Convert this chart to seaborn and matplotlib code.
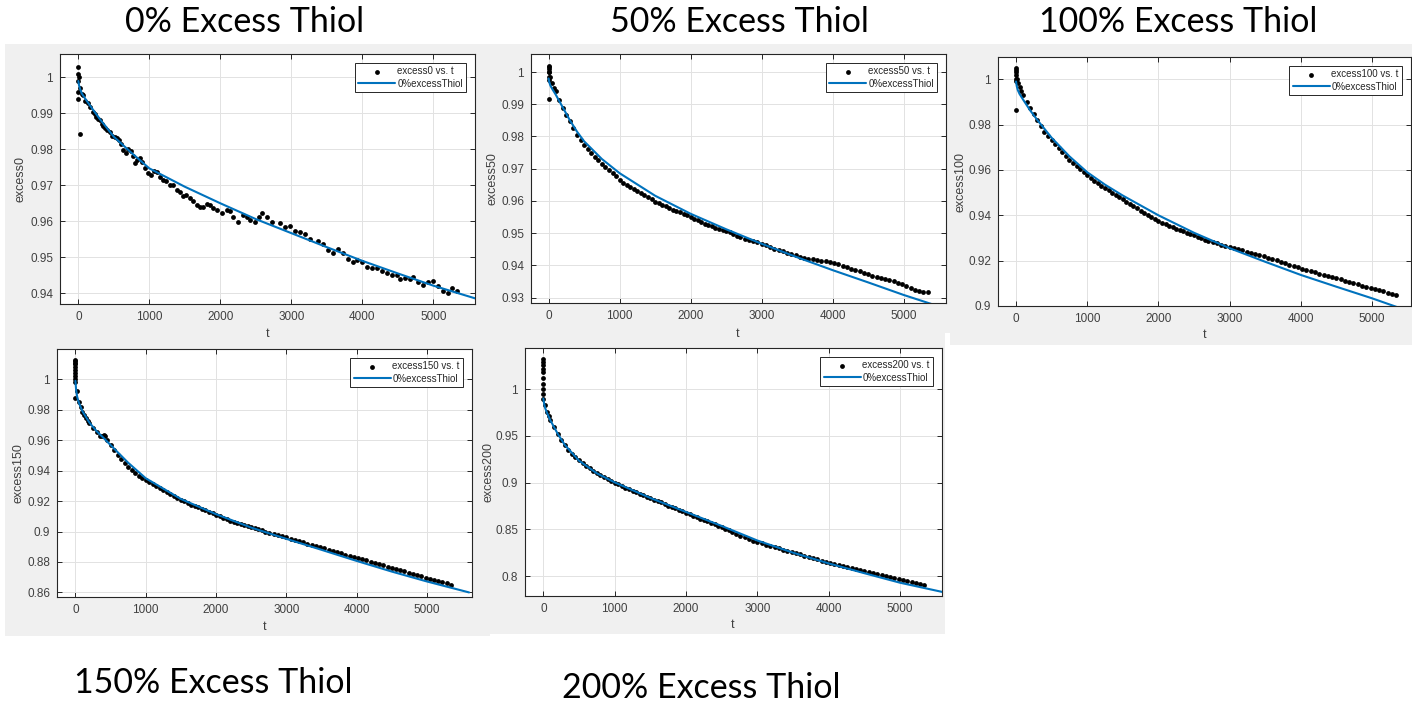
import matplotlib
matplotlib.use("Agg")
import matplotlib.pyplot as plt
from matplotlib.patches import Rectangle
import seaborn as sns

# ---------------- data ----------------
titles = ["0% Excess Thiol", "50% Excess Thiol", "100% Excess Thiol",
          "150% Excess Thiol", "200% Excess Thiol"]
ylabels = ["excess0", "excess50", "excess100", "excess150", "excess200"]
data_labels = ["excess0 vs. t", "excess50 vs. t", "excess100 vs. t",
               "excess150 vs. t", "excess200 vs. t"]
fit_label = "0%excessThiol"

# 0 % excess
t0 = [0, 0, 0, 0, 0, 5, 23, 30, 50, 70, 100, 130, 164, 200, 230, 250, 280, 305, 330, 350,
      380, 400, 446, 480, 516, 550, 580, 600, 634, 670, 704, 740, 770, 798, 830, 869, 900,
      940, 986, 1030, 1070, 1103, 1150, 1197, 1240, 1291, 1330, 1385, 1430, 1479, 1520, 1573,
      1620, 1667, 1710, 1761, 1810, 1854, 1900, 1948, 2019, 2089, 2140, 2183, 2254, 2324, 2370,
      2418, 2488, 2540, 2582, 2653, 2723, 2840, 2911, 2981, 3052, 3122, 3192, 3263, 3380, 3451,
      3521, 3592, 3662, 3732, 3803, 3873, 3920, 3991, 4061, 4131, 4202, 4272, 4343, 4413, 4484,
      4531, 4601, 4671, 4718, 4789, 4859, 4930, 5000, 5070, 5141, 5211, 5258, 5329]
y0 = [1.003, 1.001, 0.999, 0.996, 0.994, 1.000, 0.9842, 0.997, 0.9955, 0.9951, 0.9935, 0.9928,
      0.9919, 0.9905, 0.9898, 0.9890, 0.9884, 0.9881, 0.9870, 0.9866, 0.9858, 0.9855, 0.9849,
      0.9838, 0.9835, 0.9832, 0.9826, 0.9815, 0.9798, 0.9790, 0.9800, 0.9795, 0.9782, 0.9761,
      0.9770, 0.9775, 0.9765, 0.9748, 0.9733, 0.9730, 0.9740, 0.9738, 0.9722, 0.9715, 0.9712,
      0.9701, 0.9700, 0.9687, 0.9680, 0.9669, 0.9672, 0.9664, 0.9655, 0.9645, 0.9640, 0.9641,
      0.9648, 0.9645, 0.9638, 0.9631, 0.9622, 0.9631, 0.9628, 0.9613, 0.9599, 0.9618, 0.9612,
      0.9604, 0.9599, 0.9612, 0.9622, 0.9613, 0.9599, 0.9596, 0.9583, 0.9587, 0.9573, 0.9569,
      0.9565, 0.9550, 0.9546, 0.9537, 0.9519, 0.9511, 0.9522, 0.9513, 0.9494, 0.9488, 0.9493,
      0.9488, 0.9472, 0.9469, 0.9469, 0.9463, 0.9456, 0.9451, 0.9451, 0.9439, 0.9441, 0.9439,
      0.9444, 0.9430, 0.9423, 0.9430, 0.9435, 0.9419, 0.9407, 0.9400, 0.9414, 0.9407]
fit_t0 = [0, 10, 25, 50, 100, 200, 300, 500, 750, 1000, 1500, 2000, 2500, 3000, 3500, 4000,
          4500, 5000, 5600]
fit_y0 = [0.9990, 0.9978, 0.9968, 0.9955, 0.9940, 0.9912, 0.9885, 0.9835, 0.9790, 0.9747,
          0.9696, 0.9650, 0.9606, 0.9567, 0.9528, 0.9490, 0.9455, 0.9421, 0.9385]

# 50 % excess
t50 = [0, 0, 0, 0, 0, 10, 10, 0, 25, 50, 75, 100, 150, 200, 250, 300, 350, 400, 450, 500, 550,
       600, 650, 700, 750, 800, 850, 900, 950, 1000, 1050, 1100, 1150, 1200, 1250, 1300, 1350,
       1400, 1450, 1500, 1550, 1600, 1650, 1700, 1750, 1800, 1850, 1900, 1950, 2000, 2050, 2100,
       2150, 2200, 2250, 2300, 2350, 2400, 2450, 2500, 2550, 2600, 2650,
       2700, 2760, 2820, 2880, 2940, 3000, 3060, 3120, 3180, 3240, 3300, 3360, 3420, 3480, 3540,
       3600, 3660, 3720, 3780, 3840, 3900, 3960, 4020, 4080, 4140, 4200, 4260, 4320, 4380, 4440,
       4500, 4560, 4620, 4680, 4740, 4800, 4860, 4920, 4980, 5040, 5100, 5160, 5220, 5280, 5340]
y50 = [1.002, 1.001, 1.000, 0.9985, 0.9975, 1.0015, 1.000, 0.9916, 0.9985, 0.9966, 0.9952,
       0.9940, 0.9912, 0.9888, 0.9867, 0.9847, 0.9826, 0.9805, 0.9789, 0.9774, 0.9761, 0.9748,
       0.9737, 0.9726, 0.9715, 0.9705, 0.9695, 0.9686, 0.9676, 0.9666, 0.9657, 0.9648, 0.9642,
       0.9637, 0.9632, 0.9626, 0.9619, 0.9612, 0.9605, 0.9598, 0.9593, 0.9588, 0.9583, 0.9578,
       0.9573, 0.9569, 0.9564, 0.9560, 0.9555, 0.9550, 0.9545, 0.9540, 0.9535, 0.9529, 0.9525,
       0.9521, 0.9517, 0.9513, 0.9510, 0.9508, 0.9503, 0.9498, 0.9492,
       0.9487, 0.9483, 0.9479, 0.9475, 0.9471, 0.9467, 0.9462, 0.9457, 0.9452, 0.9447, 0.9443,
       0.9439, 0.9435, 0.9431, 0.9427, 0.9424, 0.9421, 0.9419, 0.9417, 0.9414, 0.9412, 0.9410,
       0.9407, 0.9403, 0.9399, 0.9394, 0.9390, 0.9386, 0.9382, 0.9377, 0.9372, 0.9368, 0.9365,
       0.9362, 0.9359, 0.9355, 0.9350, 0.9346, 0.9341, 0.9336, 0.9330, 0.9324, 0.9320, 0.9318,
       0.9316]
fit_t50 = [0, 10, 25, 50, 100, 200, 300, 400, 500, 750, 1000, 1500, 2000, 2500, 3000, 3500,
           4000, 4500, 5000, 5600]
fit_y50 = [0.9980, 0.9968, 0.9958, 0.9948, 0.9930, 0.9890, 0.9850, 0.9815, 0.9785, 0.9730,
           0.9686, 0.9616, 0.9560, 0.9512, 0.9467, 0.9425, 0.9385, 0.9347, 0.9308, 0.9265]

# 100 % excess
t100 = [0, 0, 0, 0, 0, 0, 0, 10, 25, 50, 75, 100, 150, 200, 250, 300, 350, 400, 450, 500, 550,
        600, 650, 700, 750, 800, 850, 900, 950, 1000, 1050, 1100, 1150, 1200, 1250, 1300, 1350,
        1400, 1450, 1500, 1550, 1600, 1650, 1700, 1750, 1800, 1850, 1900, 1950, 2000, 2050, 2100,
        2150, 2200, 2250, 2300, 2350, 2400, 2450, 2500, 2550, 2600, 2650,
        2700, 2760, 2820, 2880, 2940, 3000, 3060, 3120, 3180, 3240, 3300, 3360, 3420, 3480, 3540,
        3600, 3660, 3720, 3780, 3840, 3900, 3960, 4020, 4080, 4140, 4200, 4260, 4320, 4380, 4440,
        4500, 4560, 4620, 4680, 4740, 4800, 4860, 4920, 4980, 5040, 5100, 5160, 5220, 5280, 5340]
y100 = [1.005, 1.004, 1.003, 1.002, 1.000, 0.999, 0.9866, 1.000, 0.9985, 0.9966, 0.9948,
        0.9930, 0.9900, 0.9871, 0.9845, 0.9819, 0.9793, 0.9768, 0.9749, 0.9731, 0.9713, 0.9695,
        0.9678, 0.9661, 0.9646, 0.9631, 0.9616, 0.9602, 0.9589, 0.9577, 0.9564, 0.9552, 0.9541,
        0.9530, 0.9520, 0.9511, 0.9500, 0.9489, 0.9479, 0.9470, 0.9459, 0.9449, 0.9439, 0.9430,
        0.9420, 0.9411, 0.9402, 0.9393, 0.9384, 0.9376, 0.9368, 0.9361, 0.9354, 0.9347, 0.9341,
        0.9335, 0.9329, 0.9323, 0.9317, 0.9311, 0.9304, 0.9298, 0.9292,
        0.9286, 0.9281, 0.9276, 0.9271, 0.9266, 0.9261, 0.9256, 0.9251, 0.9246, 0.9240, 0.9235,
        0.9230, 0.9224, 0.9219, 0.9213, 0.9207, 0.9201, 0.9195, 0.9189, 0.9183, 0.9177, 0.9171,
        0.9164, 0.9159, 0.9154, 0.9148, 0.9143, 0.9138, 0.9133, 0.9128, 0.9122, 0.9117, 0.9112,
        0.9106, 0.9101, 0.9096, 0.9090, 0.9085, 0.9080, 0.9075, 0.9070, 0.9064, 0.9059, 0.9054,
        0.9048]
fit_t100 = [0, 10, 25, 50, 100, 200, 300, 500, 750, 1000, 1250, 1500, 2000, 2500, 3000, 3500,
            4000, 4500, 5000, 5600]
fit_y100 = [0.9990, 0.9970, 0.9952, 0.9935, 0.9910, 0.9862, 0.9820, 0.9742, 0.9660, 0.9590,
            0.9535, 0.9487, 0.9400, 0.9323, 0.9255, 0.9195, 0.9137, 0.9085, 0.9034, 0.8968]

# 150 % excess
t150 = [0, 0, 0, 0, 0, 0, 0, 0, 0, 0, 0, 25, 50, 75, 100, 125, 150, 175, 200, 250, 300, 350,
        375, 400, 425, 450, 500, 550, 600, 650, 700, 750, 800, 850, 900, 950, 1000, 1050, 1100,
        1150, 1200, 1250, 1300, 1350, 1400, 1450, 1500, 1550, 1600, 1650, 1700, 1750, 1800, 1850,
        1900, 1950, 2000, 2050, 2100, 2150, 2200, 2250, 2300, 2350, 2400, 2450, 2500, 2550, 2600,
        2650,
        2700, 2760, 2820, 2880, 2940, 3000, 3060, 3120, 3180, 3240, 3300, 3360, 3420, 3480, 3540,
        3600, 3660, 3720, 3780, 3840, 3900, 3960, 4020, 4080, 4140, 4200, 4260, 4320, 4380, 4440,
        4500, 4560, 4620, 4680, 4740, 4800, 4860, 4920, 4980, 5040, 5100, 5160, 5220, 5280, 5340]
y150 = [1.013, 1.012, 1.011, 1.010, 1.008, 1.006, 1.004, 1.002, 1.000, 0.998, 0.9875,
        0.9920, 0.9853, 0.9815, 0.9788, 0.9765, 0.9744, 0.9727, 0.9711, 0.9683, 0.9656, 0.9630,
        0.9628, 0.9635, 0.9625, 0.9600, 0.9569, 0.9535, 0.9503, 0.9475, 0.9449, 0.9426, 0.9405,
        0.9386, 0.9368, 0.9353, 0.9339, 0.9325, 0.9311, 0.9298, 0.9285, 0.9272, 0.9259, 0.9246,
        0.9234, 0.9222, 0.9210, 0.9198, 0.9186, 0.9177, 0.9168, 0.9158, 0.9149, 0.9139, 0.9129,
        0.9120, 0.9110, 0.9100, 0.9091, 0.9081, 0.9072, 0.9065, 0.9058, 0.9051, 0.9044, 0.9037,
        0.9030, 0.9022, 0.9015, 0.9007,
        0.9000, 0.8992, 0.8984, 0.8976, 0.8968, 0.8961, 0.8953, 0.8945, 0.8937, 0.8929, 0.8921,
        0.8913, 0.8905, 0.8897, 0.8889, 0.8881, 0.8873, 0.8865, 0.8857, 0.8849, 0.8841, 0.8833,
        0.8826, 0.8818, 0.8810, 0.8802, 0.8794, 0.8786, 0.8778, 0.8770, 0.8762, 0.8754, 0.8746,
        0.8738, 0.8730, 0.8722, 0.8714, 0.8706, 0.8698, 0.8690, 0.8682, 0.8674, 0.8666, 0.8659,
        0.8652]
fit_t150 = [0, 10, 25, 50, 100, 200, 300, 400, 500, 750, 1000, 1500, 2000, 2500, 3000, 3500,
            4000, 4500, 5000, 5600]
fit_y150 = [0.9990, 0.9930, 0.9885, 0.9845, 0.9790, 0.9715, 0.9660, 0.9615, 0.9568, 0.9452,
            0.9350, 0.9214, 0.9114, 0.9026, 0.8952, 0.8880, 0.8807, 0.8737, 0.8672, 0.8600]

# 200 % excess
t200 = [0, 0, 0, 0, 0, 0, 0, 0, 0, 0, 25, 50, 75, 100, 150, 200, 250, 300, 350, 400, 450, 500,
        550, 600, 650, 700, 750, 800, 850, 900, 950, 1000, 1050, 1100, 1150, 1200, 1250, 1300,
        1350, 1400, 1450, 1500, 1550, 1600, 1650, 1700, 1750, 1800, 1850, 1900, 1950, 2000, 2050,
        2100, 2150, 2200, 2250, 2300, 2350, 2400, 2450, 2500, 2550, 2600, 2650,
        2700, 2760, 2820, 2880, 2940, 3000, 3060, 3120, 3180, 3240, 3300, 3360, 3420, 3480, 3540,
        3600, 3660, 3720, 3780, 3840, 3900, 3960, 4020, 4080, 4140, 4200, 4260, 4320, 4380, 4440,
        4500, 4560, 4620, 4680, 4740, 4800, 4860, 4920, 4980, 5040, 5100, 5160, 5220, 5280, 5340]
y200 = [1.032, 1.029, 1.026, 1.022, 1.018, 1.012, 1.006, 1.000, 0.995, 0.990,
        0.9830, 0.9757, 0.9710, 0.9668, 0.9593, 0.9525, 0.9460, 0.9400, 0.9353, 0.9311, 0.9274,
        0.9239, 0.9208, 0.9179, 0.9152, 0.9125, 0.9101, 0.9079, 0.9057, 0.9036, 0.9018, 0.9000,
        0.8982, 0.8964, 0.8946, 0.8929, 0.8913, 0.8896, 0.8880, 0.8864, 0.8849, 0.8834, 0.8819,
        0.8804, 0.8788, 0.8771, 0.8755, 0.8739, 0.8724, 0.8709, 0.8694, 0.8679, 0.8663, 0.8646,
        0.8630, 0.8614, 0.8599, 0.8584, 0.8569, 0.8554, 0.8538, 0.8522, 0.8505, 0.8489, 0.8467,
        0.8445, 0.8429, 0.8413, 0.8397, 0.8380, 0.8364, 0.8350, 0.8336, 0.8322, 0.8309, 0.8296,
        0.8283, 0.8270, 0.8257, 0.8244, 0.8231, 0.8218, 0.8205, 0.8192, 0.8179, 0.8166, 0.8153,
        0.8141, 0.8130, 0.8119, 0.8108, 0.8097, 0.8086, 0.8075, 0.8064, 0.8053, 0.8042, 0.8031,
        0.8020, 0.8009, 0.7998, 0.7987, 0.7976, 0.7965, 0.7955, 0.7945, 0.7935, 0.7925, 0.7915,
        0.7905]
fit_t200 = [0, 10, 25, 50, 100, 200, 300, 500, 750, 1000, 1500, 2000, 2500, 3000, 3500, 4000,
            4500, 5000, 5600]
fit_y200 = [0.9900, 0.9850, 0.9800, 0.9750, 0.9665, 0.9525, 0.9405, 0.9235, 0.9100, 0.9003,
            0.8836, 0.8686, 0.8536, 0.8380, 0.8250, 0.8135, 0.8030, 0.7928, 0.7828]

xticks = [0, 1000, 2000, 3000, 4000, 5000]
yticks = [
    [0.94, 0.95, 0.96, 0.97, 0.98, 0.99, 1.0],
    [0.93, 0.94, 0.95, 0.96, 0.97, 0.98, 0.99, 1.0],
    [0.90, 0.92, 0.94, 0.96, 0.98, 1.0],
    [0.86, 0.88, 0.90, 0.92, 0.94, 0.96, 0.98, 1.0],
    [0.80, 0.85, 0.90, 0.95, 1.0],
]
ytick_labels = [
    ["0.94", "0.95", "0.96", "0.97", "0.98", "0.99", "1"],
    ["0.93", "0.94", "0.95", "0.96", "0.97", "0.98", "0.99", "1"],
    ["0.9", "0.92", "0.94", "0.96", "0.98", "1"],
    ["0.86", "0.88", "0.9", "0.92", "0.94", "0.96", "0.98", "1"],
    ["0.8", "0.85", "0.9", "0.95", "1"],
]

series_t = [t0, t50, t100, t150, t200]
series_y = [y0, y50, y100, y150, y200]
fits_t = [fit_t0, fit_t50, fit_t100, fit_t150, fit_t200]
fits_y = [fit_y0, fit_y50, fit_y100, fit_y150, fit_y200]

# ---------------- layout (pixels) ----------------
W, H = 1412, 702
# axes boxes: left, top, right, bottom
boxes = [(60, 54, 475, 304), (531, 54, 946, 303), (998, 57, 1411, 306),
         (57, 349, 472, 597), (525, 348, 942, 596)]
xlims = [(-258, 5587), (-248, 5597), (-253, 5548), (-262, 5641), (-257, 5587)]
ylims = [(0.9370, 1.0065), (0.9283, 1.0056), (0.9000, 1.0098), (0.8570, 1.0199),
         (0.7786, 1.0442)]
# grey screenshot panels: left, top, right, bottom
panels = [(5, 44, 487, 333), (487, 44, 950, 333), (950, 44, 1412, 345),
          (5, 333, 490, 636), (490, 333, 945, 634)]
ylabel_x = [21, 492, 960, 19, 488]
xlabel_pos = [(268, 334), (738, 334), (1205, 335), (265, 627), (733, 625)]
title_pos = [(245, 22), (739, 22), (1178, 22), (213, 683), (701, 688)]

sns.set_style("white")
plt.rcParams["font.family"] = ["Liberation Sans", "DejaVu Sans"]

fig = plt.figure(figsize=(W / 100, H / 100), dpi=100)
fig.patch.set_facecolor("white")

for (l, t, r, b) in panels:
    fig.patches.append(Rectangle((l / W, 1 - b / H), (r - l) / W, (b - t) / H,
                                 transform=fig.transFigure, facecolor="#f0f0f0",
                                 edgecolor="none", zorder=-10))

axis_col = "#262626"
for i in range(5):
    l, t, r, b = boxes[i]
    ax = fig.add_axes([l / W, 1 - b / H, (r - l) / W, (b - t) / H])
    ax.set_zorder(5)
    ax.set_facecolor("white")
    sns.scatterplot(x=series_t[i], y=series_y[i], ax=ax, color="black", s=12,
                    linewidth=0, label=data_labels[i], zorder=3, legend=False)
    sns.lineplot(x=fits_t[i], y=fits_y[i], ax=ax, color="#0072BD", linewidth=1.5,
                 estimator=None, sort=False, label=fit_label, zorder=4, legend=False)
    ax.set_xlim(*xlims[i])
    ax.set_ylim(*ylims[i])
    ax.set_xticks(xticks)
    ax.set_xticklabels([str(v) for v in xticks])
    ax.set_yticks(yticks[i])
    ax.set_yticklabels(ytick_labels[i])
    ax.grid(True, color="#e2e2e2", linewidth=0.7)
    ax.set_axisbelow(True)
    for sp in ax.spines.values():
        sp.set_color(axis_col)
        sp.set_linewidth(0.8)
        sp.set_visible(True)
    ax.tick_params(direction="in", length=3.5, width=0.7, color=axis_col,
                   labelsize=8.5, labelcolor="#404040", top=True, right=True,
                   bottom=True, left=True, pad=5)
    ax.set_xlabel("")
    ax.set_ylabel("")
    leg = ax.legend(loc="upper right", fontsize=7, frameon=True, fancybox=False,
                    framealpha=1, edgecolor=axis_col, handlelength=3.8,
                    handletextpad=0.2, labelspacing=0.25, borderpad=0.35,
                    borderaxespad=0.9, markerscale=1.0)
    leg.get_frame().set_linewidth(0.7)
    for txt in leg.get_texts():
        txt.set_color("#262626")
    # axis labels in figure pixel coordinates
    fig.text(ylabel_x[i] / W, 1 - ((t + b) / 2) / H, ylabels[i], rotation=90,
             ha="center", va="center", fontsize=9, color="#404040")
    fig.text(xlabel_pos[i][0] / W, 1 - xlabel_pos[i][1] / H, "t", ha="center",
             va="center", fontsize=9, color="#404040")

for i in range(5):
    fig.text(title_pos[i][0] / W, 1 - title_pos[i][1] / H, titles[i], ha="center",
             va="center", fontsize=24.5, color="black", family=["Lato", "DejaVu Sans"])

fig.savefig("out.png", dpi=100)
